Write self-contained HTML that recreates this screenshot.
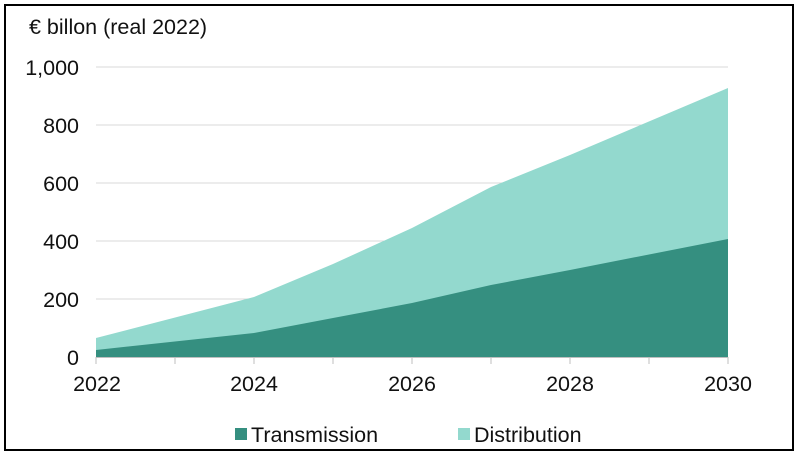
<!DOCTYPE html>
<html><head><style>
body{margin:0;background:#fff;}
svg{display:block;font-family:"Liberation Sans",Arial,sans-serif;}
</style></head><body>
<svg width="798" height="455" viewBox="0 0 798 455">
<rect x="5" y="5" width="788" height="445" fill="#fff" stroke="#000" stroke-width="2"/>
<text x="29" y="34" font-size="21.5" fill="#111">€ billon (real 2022)</text>
<g stroke="#d9d9d9" stroke-width="1">
<line x1="96" x2="728" y1="67" y2="67"/>
<line x1="96" x2="728" y1="125" y2="125"/>
<line x1="96" x2="728" y1="183" y2="183"/>
<line x1="96" x2="728" y1="241" y2="241"/>
<line x1="96" x2="728" y1="299" y2="299"/>
</g>
<g font-size="21.5" fill="#111" text-anchor="end">
<text x="79" y="75">1,000</text>
<text x="79" y="133">800</text>
<text x="79" y="191">600</text>
<text x="79" y="249">400</text>
<text x="79" y="307">200</text>
<text x="79" y="365">0</text>
</g>
<polygon fill="#93d9ce" points="96,357 96,338 254,297 333,264 412,228 491,187 570,155 728,88 728,357"/>
<polygon fill="#358f80" points="96,357 96,350 254,333 333,318 412,303 491,285 570,270 728,239 728,357"/>
<g stroke="#bfbfbf" stroke-width="1">
<line x1="96" x2="728" y1="357.5" y2="357.5"/>
<line x1="96" x2="96" y1="357" y2="364"/>
<line x1="175" x2="175" y1="357" y2="364"/>
<line x1="254" x2="254" y1="357" y2="364"/>
<line x1="333" x2="333" y1="357" y2="364"/>
<line x1="412" x2="412" y1="357" y2="364"/>
<line x1="491" x2="491" y1="357" y2="364"/>
<line x1="570" x2="570" y1="357" y2="364"/>
<line x1="649" x2="649" y1="357" y2="364"/>
<line x1="728" x2="728" y1="357" y2="364"/>
</g>
<g font-size="21.5" fill="#111" text-anchor="middle">
<text x="97" y="391">2022</text>
<text x="254" y="391">2024</text>
<text x="412" y="391">2026</text>
<text x="570" y="391">2028</text>
<text x="728" y="391">2030</text>
</g>
<rect x="235" y="428" width="12" height="12" fill="#358f80"/>
<text x="251" y="442" font-size="21.5" fill="#111">Transmission</text>
<rect x="458" y="428" width="12" height="12" fill="#93d9ce"/>
<text x="474" y="442" font-size="21.5" fill="#111">Distribution</text>
</svg>
</body></html>
